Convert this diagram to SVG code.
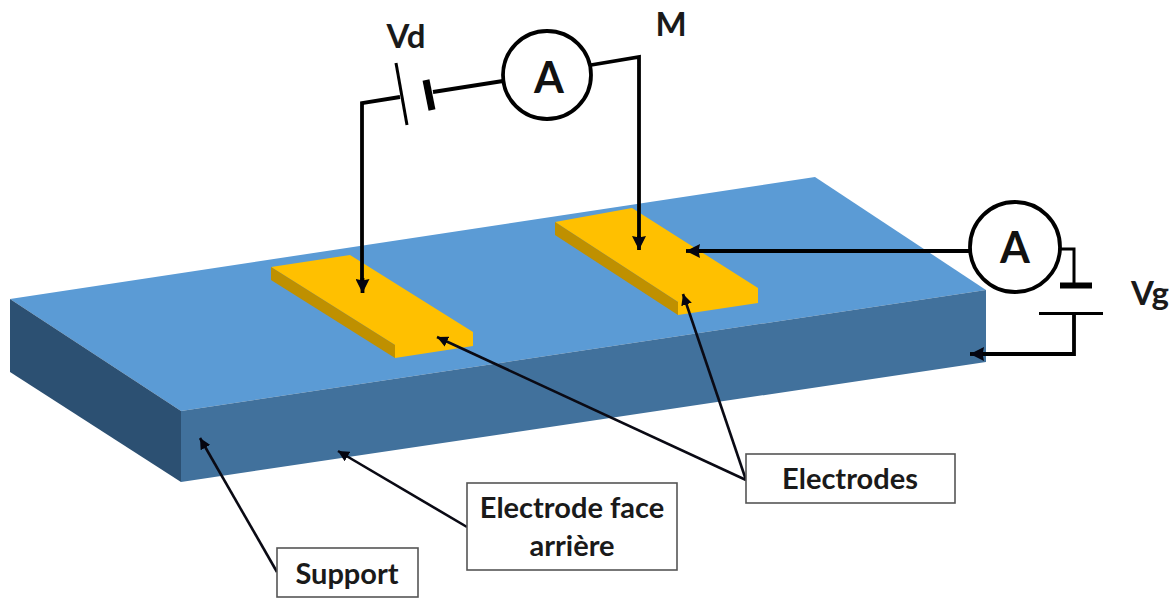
<svg xmlns="http://www.w3.org/2000/svg" width="1176" height="599" viewBox="0 0 1176 599">
<style>
text{font-family:"Lato","Liberation Sans",sans-serif;font-weight:700;fill:#1a1a1a;text-anchor:middle}
.lb{font-size:29px}
.v{font-size:33px}
.box rect{fill:#fff;stroke:#555;stroke-width:1.6}
.m circle{fill:#fff;stroke:#000;stroke-width:3.8}
.m text{font-size:43px;fill:#111}
.w{fill:none;stroke:#000;stroke-width:3.8}
.p{fill:none;stroke:#0a0a14;stroke-width:2.6}
</style>
<defs>
<marker id="a" viewBox="0 0 10 10" refX="10" refY="5" markerWidth="11" markerHeight="11" markerUnits="userSpaceOnUse" orient="auto"><path d="M0 0L10 5L0 10z" fill="#050510"/></marker>
<marker id="b" viewBox="0 0 10 10" refX="10" refY="5" markerWidth="14" markerHeight="14" markerUnits="userSpaceOnUse" orient="auto"><path d="M0 0L10 5L0 10L1 5z" fill="#050510"/></marker>
</defs>
<g id="support">
<path d="M10 299L815 177L986 290L181 411z" fill="#5B9BD5"/>
<path d="M181 411L986 290V362L181 482z" fill="#41719C"/>
<path d="M10 299L181 411V482L10 372z" fill="#2C5072"/>
</g>
<g id="electrode1">
<path d="M271 267L350 255L473 332V346L395 358V345z" fill="#FFC000"/>
<path d="M271 267L395 345V358L271 280z" fill="#BF9000"/>
</g>
<g id="electrode2">
<path d="M555 222L632 208L758 288V303L678 315V302z" fill="#FFC000"/>
<path d="M555 222L678 302V315L555 235z" fill="#BF9000"/>
</g>
<g id="connectors">
<path class="w" d="M400 97L362 103V285"/>
<path class="w" d="M362.500 278V293" marker-end="url(#b)"/>
<path class="w" d="M396 63L407 125" style="stroke-width:3"/>
<path d="M426 80L432 110" fill="none" stroke="#000" stroke-width="7"/>
<path class="w" d="M433 92L503 81"/>
<path class="w" d="M591 65L639 57V242"/>
<path class="w" d="M639 236V250" marker-end="url(#b)"/>
<path class="w" d="M970 251H696"/>
<path class="w" d="M700 251H686" marker-end="url(#b)"/>
<path class="w" d="M1060 249H1074V285" style="stroke-width:3"/>
<path d="M1060 285.500H1092" fill="none" stroke="#000" stroke-width="6"/>
<path class="w" d="M1039 313.500H1103" style="stroke-width:3"/>
<path class="w" d="M1074 313V354H980"/>
<path class="w" d="M985 354H970" marker-end="url(#b)"/>
<path class="p" d="M277 572L200 438" marker-end="url(#a)"/>
<path class="p" d="M467 527L338 451" marker-end="url(#a)"/>
<path class="p" d="M746 480L437 337" marker-end="url(#a)"/>
<path class="p" d="M746 480L683 294" marker-end="url(#a)"/>
</g>
<g id="ammeter1" class="m"><circle cx="547" cy="75" r="44"/><text x="549" y="93">A</text></g>
<g id="ammeter2" class="m"><circle cx="1015" cy="247" r="45"/><text x="1015" y="263">A</text></g>
<g id="label-vd"><text class="v" x="406" y="48">Vd</text></g>
<g id="label-m"><text class="v" x="671" y="36">M</text></g>
<g id="label-vg"><text class="v" x="1150" y="305">Vg</text></g>
<g id="box-support" class="box"><rect x="277" y="548" width="141" height="49"/><text class="lb" x="347" y="584">Support</text></g>
<g id="box-face" class="box"><rect x="467" y="483" width="210" height="87"/><text class="lb" x="572" y="518">Electrode face</text><text class="lb" x="572" y="556">arrière</text></g>
<g id="box-electrodes" class="box"><rect x="746" y="454" width="209" height="49"/><text class="lb" x="850" y="489">Electrodes</text></g>
</svg>
